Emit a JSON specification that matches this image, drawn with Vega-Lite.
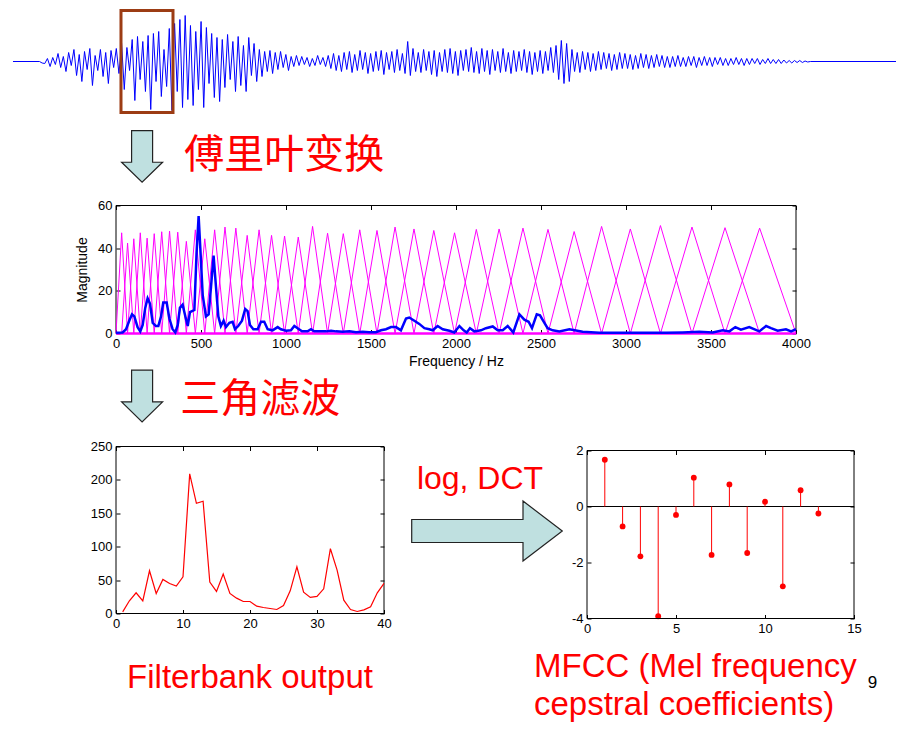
{
"$schema":"https://vega.github.io/schema/vega-lite/v6.json",
"background":"white",
"padding":{"left":10,"top":8.5,"right":5,"bottom":5},
"bounds":"flush",
"spacing":113,
"config":{
 "view":{"stroke":null},
 "axis":{"domain":false,"grid":false,"ticks":true,"tickSize":-4,"tickColor":"black","tickWidth":1,"labelPadding":8,"labelColor":"black","labelFont":"Liberation Sans","labelFontSize":13,"labelFlush":false,"labelOverlap":false,"titleFont":"Liberation Sans","titleFontSize":13,"titleFontWeight":"normal","titleColor":"black"}
},
"datasets":{
 "wave":[{"t":0,"v":0},{"t":30,"v":0},{"t":33,"v":-1.5},
{"t":36,"v":-2},{"t":39,"v":3},{"t":42,"v":-5},{"t":45,"v":4},{"t":48,"v":-3},{"t":51,"v":8},{"t":54,"v":-6},{"t":57,"v":5},{"t":60,"v":-10},{"t":63,"v":9},{"t":66,"v":-4},{"t":69,"v":12},{"t":72,"v":-14},{"t":75,"v":7},{"t":78,"v":-20},{"t":81,"v":10},{"t":84,"v":-8},{"t":87,"v":13},{"t":90,"v":-24},{"t":93,"v":6},{"t":96,"v":-9},{"t":99,"v":12},{"t":102,"v":-15},{"t":105,"v":9},{"t":108,"v":-22},{"t":111,"v":11},{"t":114,"v":-6},{"t":117,"v":13},{"t":120,"v":-12},
{"t":123,"v":18},{"t":126,"v":-28},{"t":129,"v":14},{"t":132,"v":-9},{"t":135,"v":22},{"t":138,"v":-39},{"t":141,"v":25},{"t":144,"v":-18},{"t":147,"v":20},{"t":150,"v":-30},{"t":153,"v":26},{"t":156,"v":-48},{"t":159,"v":28},{"t":162,"v":-20},{"t":165,"v":30},{"t":168,"v":-35},{"t":171,"v":12},{"t":174,"v":-25},{"t":177,"v":33},{"t":180,"v":-49},
{"t":183,"v":38},{"t":186,"v":-30},{"t":189,"v":42},{"t":192,"v":-46},{"t":195,"v":46},{"t":198,"v":-38},{"t":201,"v":36},{"t":204,"v":-44},{"t":207,"v":30},{"t":210,"v":-28},{"t":213,"v":40},{"t":216,"v":-46},{"t":219,"v":34},{"t":222,"v":-22},{"t":225,"v":28},{"t":228,"v":-36},{"t":231,"v":24},{"t":234,"v":-40},{"t":237,"v":22},{"t":240,"v":-26},{"t":243,"v":27},{"t":246,"v":-18},{"t":249,"v":20},{"t":252,"v":-30},{"t":255,"v":25},{"t":258,"v":-24},{"t":261,"v":16},{"t":264,"v":-30},{"t":267,"v":24},{"t":270,"v":-14},{"t":273,"v":18},{"t":276,"v":-20},
{"t":279,"v":12},{"t":282,"v":-15},{"t":285,"v":10},{"t":288,"v":-10},{"t":291,"v":11},{"t":294,"v":-12},{"t":297,"v":9},{"t":300,"v":-8},{"t":303,"v":10},{"t":306,"v":-6},{"t":309,"v":7},{"t":312,"v":-9},{"t":315,"v":5},{"t":318,"v":-5},{"t":321,"v":6},{"t":324,"v":-4},
{"t":327,"v":5},{"t":330,"v":-3},{"t":333,"v":4},{"t":336,"v":-5},{"t":339,"v":3},{"t":342,"v":-4},{"t":345,"v":6},{"t":348,"v":-3},{"t":351,"v":4},{"t":354,"v":-5},{"t":357,"v":6},
{"t":360,"v":-7},{"t":363,"v":8},{"t":366,"v":-9},{"t":369,"v":6},{"t":372,"v":-10},{"t":375,"v":9},{"t":378,"v":-8},{"t":381,"v":10},{"t":384,"v":-11},{"t":387,"v":7},{"t":390,"v":-9},{"t":393,"v":11},{"t":396,"v":-8},{"t":399,"v":9},{"t":402,"v":-12},{"t":405,"v":8},{"t":408,"v":-10},{"t":411,"v":10},{"t":414,"v":-9},{"t":417,"v":11},{"t":420,"v":-13},{"t":423,"v":9},{"t":426,"v":-8},{"t":429,"v":10},{"t":432,"v":-11},{"t":435,"v":12},{"t":438,"v":-9},{"t":441,"v":8},{"t":444,"v":-12},{"t":447,"v":20},{"t":450,"v":-14},{"t":453,"v":13},{"t":456,"v":-10},{"t":459,"v":9},{"t":462,"v":-11},{"t":465,"v":12},{"t":468,"v":-9},{"t":471,"v":10},{"t":474,"v":-13},{"t":477,"v":11},{"t":480,"v":-15},{"t":483,"v":9},{"t":486,"v":-10},{"t":489,"v":12},{"t":492,"v":-11},{"t":495,"v":13},{"t":498,"v":-12},{"t":501,"v":10},{"t":504,"v":-14},{"t":507,"v":11},{"t":510,"v":-9},{"t":513,"v":12},{"t":516,"v":-10},{"t":519,"v":14},{"t":522,"v":-11},{"t":525,"v":10},{"t":528,"v":-12},{"t":531,"v":13},{"t":534,"v":-10},{"t":537,"v":11},{"t":540,"v":-13},{"t":543,"v":12},{"t":546,"v":-9},{"t":549,"v":10},{"t":552,"v":-11},{"t":555,"v":13},{"t":558,"v":-10},{"t":561,"v":9},{"t":564,"v":-12},{"t":567,"v":11},{"t":570,"v":-10},{"t":573,"v":10},{"t":576,"v":-9},{"t":579,"v":12},{"t":582,"v":-11},{"t":585,"v":10},{"t":588,"v":-13},{"t":591,"v":9},{"t":594,"v":-10},{"t":597,"v":11},{"t":600,"v":-12},{"t":603,"v":10},{"t":606,"v":-9},{"t":609,"v":14},{"t":612,"v":-11},{"t":615,"v":16},{"t":618,"v":-18},{"t":621,"v":21},{"t":624,"v":-22},{"t":627,"v":18},{"t":630,"v":-20},{"t":633,"v":12},{"t":636,"v":-10},{"t":639,"v":9},{"t":642,"v":-11},{"t":645,"v":10},{"t":648,"v":-8},{"t":651,"v":9},{"t":654,"v":-10},{"t":657,"v":8},{"t":660,"v":-9},{"t":663,"v":10},
{"t":666,"v":-8},{"t":669,"v":9},{"t":672,"v":-7},{"t":675,"v":8},{"t":678,"v":-9},{"t":681,"v":7},{"t":684,"v":-8},{"t":687,"v":9},{"t":690,"v":-7},{"t":693,"v":8},{"t":696,"v":-7},{"t":699,"v":7},{"t":702,"v":-8},{"t":705,"v":6},{"t":708,"v":-7},{"t":711,"v":8},{"t":714,"v":-6},{"t":717,"v":7},{"t":720,"v":-7},{"t":723,"v":6},{"t":726,"v":-6},{"t":729,"v":7},{"t":732,"v":-5},{"t":735,"v":6},{"t":738,"v":-6},{"t":741,"v":5},{"t":744,"v":-6},{"t":747,"v":5},{"t":750,"v":-5},{"t":753,"v":6},{"t":756,"v":-5},{"t":759,"v":4},{"t":762,"v":-5},{"t":765,"v":5},{"t":768,"v":-4},{"t":771,"v":5},{"t":774,"v":-6},{"t":777,"v":4},{"t":780,"v":-4},{"t":783,"v":5},{"t":786,"v":-4},{"t":789,"v":4},{"t":792,"v":-5},{"t":795,"v":4},{"t":798,"v":-3},{"t":801,"v":4},{"t":804,"v":-4},{"t":807,"v":3},{"t":810,"v":-4},{"t":813,"v":3},{"t":816,"v":-3},{"t":819,"v":4},{"t":822,"v":-3},{"t":825,"v":3},{"t":828,"v":-4},{"t":831,"v":3},{"t":834,"v":-3},{"t":837,"v":3},{"t":840,"v":-2},{"t":843,"v":3},{"t":846,"v":-3},{"t":849,"v":2},{"t":852,"v":-2},{"t":855,"v":3},{"t":858,"v":-2},{"t":861,"v":2},{"t":864,"v":-2},{"t":867,"v":2},{"t":870,"v":-2},{"t":873,"v":1.5},{"t":876,"v":-1.5},{"t":879,"v":1},{"t":882,"v":-1.5},{"t":885,"v":1},{"t":888,"v":-1},{"t":891,"v":1},{"t":894,"v":-1},{"t":897,"v":0.5},{"t":900,"v":-0.5},{"t":903,"v":0},{"t":1000,"v":0}],
 "mfcc":[{"k":1,"c":1.67},{"k":2,"c":-0.71},{"k":3,"c":-1.78},{"k":4,"c":-3.92},{"k":5,"c":-0.30},{"k":6,"c":1.03},{"k":7,"c":-1.73},{"k":8,"c":0.79},{"k":9,"c":-1.66},{"k":10,"c":0.17},{"k":11,"c":-2.85},{"k":12,"c":0.58},{"k":13,"c":-0.25}]
},
"vconcat":[
 {
  "width":680,"height":82,
  "layer":[
   {"data":{"name":"wave"},
    "mark":{"type":"line","color":"#0000ff","strokeWidth":1},
    "encoding":{"x":{"field":"t","type":"quantitative","scale":{"domain":[116.65,886.75],"nice":false,"zero":false},"axis":null},
                "y":{"field":"v","type":"quantitative","scale":{"domain":[-31,51],"nice":false,"zero":false},"axis":null}}},
   {"data":{"values":[{"start":122.3,"end":181.2}]},
    "mark":{"type":"rect","filled":false,"color":"#9c3c14","strokeWidth":3},
    "encoding":{"x":{"field":"start","type":"quantitative","scale":{"domain":[116.65,886.75],"nice":false,"zero":false},"axis":null},"x2":{"field":"end"},
                "y":{"datum":-51,"scale":{"domain":[-31,51],"nice":false,"zero":false},"axis":null},"y2":{"datum":51}}}
  ]
 },
 {
  "width":680,"height":128,
  "resolve":{"axis":{"x":"independent","y":"independent"}},
  "layer":[
   {"data":{"values":[{}]},"mark":{"type":"rect","filled":false,"color":"black","strokeWidth":1},
    "encoding":{"x":{"datum":0,"scale":{"domain":[0,4000],"nice":false,"zero":false},"axis":{"orient":"top","labels":false,"title":null,"values":[0,500,1000,1500,2000,2500,3000,3500,4000]}},"x2":{"datum":4000},
                "y":{"datum":0,"scale":{"domain":[0,60],"nice":false,"zero":false},"axis":{"orient":"right","labels":false,"title":null,"values":[0,20,40,60]}},"y2":{"datum":60}}},
   {"data":{"values":[
{"k":1,"f":0,"m":0},{"k":1,"f":33.3,"m":47.2},{"k":1,"f":68.1,"m":0},
{"k":2,"f":33.3,"m":0},{"k":2,"f":68.1,"m":42.4},{"k":2,"f":104.7,"m":0},
{"k":3,"f":68.1,"m":0},{"k":3,"f":104.7,"m":44.4},{"k":3,"f":142.9,"m":0},
{"k":4,"f":104.7,"m":0},{"k":4,"f":142.9,"m":47.2},{"k":4,"f":183.0,"m":0},
{"k":5,"f":142.9,"m":0},{"k":5,"f":183.0,"m":44.7},{"k":5,"f":224.9,"m":0},
{"k":6,"f":183.0,"m":0},{"k":6,"f":224.9,"m":46.8},{"k":6,"f":268.9,"m":0},
{"k":7,"f":224.9,"m":0},{"k":7,"f":268.9,"m":47.7},{"k":7,"f":315.0,"m":0},
{"k":8,"f":268.9,"m":0},{"k":8,"f":315.0,"m":48},{"k":8,"f":363.2,"m":0},
{"k":9,"f":315.0,"m":0},{"k":9,"f":363.2,"m":47.5},{"k":9,"f":413.8,"m":0},
{"k":10,"f":363.2,"m":0},{"k":10,"f":413.8,"m":43.2},{"k":10,"f":466.7,"m":0},
{"k":11,"f":413.8,"m":0},{"k":11,"f":466.7,"m":48.6},{"k":11,"f":522.2,"m":0},
{"k":12,"f":466.7,"m":0},{"k":12,"f":522.2,"m":44.4},{"k":12,"f":580.3,"m":0},
{"k":13,"f":522.2,"m":0},{"k":13,"f":580.3,"m":48.6},{"k":13,"f":641.1,"m":0},
{"k":14,"f":580.3,"m":0},{"k":14,"f":641.1,"m":49.9},{"k":14,"f":704.9,"m":0},
{"k":15,"f":641.1,"m":0},{"k":15,"f":704.9,"m":49.4},{"k":15,"f":771.6,"m":0},
{"k":16,"f":704.9,"m":0},{"k":16,"f":771.6,"m":46},{"k":16,"f":841.6,"m":0},
{"k":17,"f":771.6,"m":0},{"k":17,"f":841.6,"m":48.6},{"k":17,"f":914.9,"m":0},
{"k":18,"f":841.6,"m":0},{"k":18,"f":914.9,"m":46},{"k":18,"f":991.6,"m":0},
{"k":19,"f":914.9,"m":0},{"k":19,"f":991.6,"m":45.7},{"k":19,"f":1072.1,"m":0},
{"k":20,"f":991.6,"m":0},{"k":20,"f":1072.1,"m":45.2},{"k":20,"f":1156.3,"m":0},
{"k":21,"f":1072.1,"m":0},{"k":21,"f":1156.3,"m":50.2},{"k":21,"f":1244.5,"m":0},
{"k":22,"f":1156.3,"m":0},{"k":22,"f":1244.5,"m":47},{"k":22,"f":1337.0,"m":0},
{"k":23,"f":1244.5,"m":0},{"k":23,"f":1337.0,"m":46.8},{"k":23,"f":1433.8,"m":0},
{"k":24,"f":1337.0,"m":0},{"k":24,"f":1433.8,"m":48.6},{"k":24,"f":1535.2,"m":0},
{"k":25,"f":1433.8,"m":0},{"k":25,"f":1535.2,"m":48.3},{"k":25,"f":1641.5,"m":0},
{"k":26,"f":1535.2,"m":0},{"k":26,"f":1641.5,"m":49.9},{"k":26,"f":1752.8,"m":0},
{"k":27,"f":1641.5,"m":0},{"k":27,"f":1752.8,"m":49},{"k":27,"f":1869.4,"m":0},
{"k":28,"f":1752.8,"m":0},{"k":28,"f":1869.4,"m":48.3},{"k":28,"f":1991.5,"m":0},
{"k":29,"f":1869.4,"m":0},{"k":29,"f":1991.5,"m":47.2},{"k":29,"f":2119.5,"m":0},
{"k":30,"f":1991.5,"m":0},{"k":30,"f":2119.5,"m":48.8},{"k":30,"f":2253.5,"m":0},
{"k":31,"f":2119.5,"m":0},{"k":31,"f":2253.5,"m":49},{"k":31,"f":2393.9,"m":0},
{"k":32,"f":2253.5,"m":0},{"k":32,"f":2393.9,"m":49.4},{"k":32,"f":2541.0,"m":0},
{"k":33,"f":2393.9,"m":0},{"k":33,"f":2541.0,"m":48.8},{"k":33,"f":2695.0,"m":0},
{"k":34,"f":2541.0,"m":0},{"k":34,"f":2695.0,"m":47.8},{"k":34,"f":2856.4,"m":0},
{"k":35,"f":2695.0,"m":0},{"k":35,"f":2856.4,"m":50.2},{"k":35,"f":3025.5,"m":0},
{"k":36,"f":2856.4,"m":0},{"k":36,"f":3025.5,"m":49},{"k":36,"f":3202.6,"m":0},
{"k":37,"f":3025.5,"m":0},{"k":37,"f":3202.6,"m":50.6},{"k":37,"f":3388.1,"m":0},
{"k":38,"f":3202.6,"m":0},{"k":38,"f":3388.1,"m":49.9},{"k":38,"f":3582.4,"m":0},
{"k":39,"f":3388.1,"m":0},{"k":39,"f":3582.4,"m":49.6},{"k":39,"f":3786.0,"m":0},
{"k":40,"f":3582.4,"m":0},{"k":40,"f":3786.0,"m":49.4},{"k":40,"f":4000,"m":0}]},
    "mark":{"type":"line","color":"#ff00ff","strokeWidth":1},
    "encoding":{"x":{"field":"f","type":"quantitative","scale":{"domain":[0,4000],"nice":false,"zero":false},"axis":null},
                "y":{"field":"m","type":"quantitative","scale":{"domain":[0,60],"nice":false,"zero":false},"axis":null},
                "detail":{"field":"k"}}},
   {"data":{"values":[{}]},"mark":{"type":"rule","color":"#ff00ff","strokeWidth":2.5},
    "encoding":{"y":{"datum":0,"scale":{"domain":[0,60],"nice":false,"zero":false},"axis":null}}},
   {"data":{"values":[{"f":0,"v":0.3},{"f":39,"v":0.5},{"f":59,"v":2},{"f":78,"v":6},{"f":94,"v":9},{"f":108,"v":8},{"f":127,"v":3},{"f":143,"v":1},{"f":157,"v":4},{"f":172,"v":12},{"f":186,"v":16.5},{"f":200,"v":14},{"f":216,"v":5},{"f":235,"v":3.5},{"f":249,"v":3.5},{"f":265,"v":8},{"f":278,"v":14.5},{"f":298,"v":14.5},{"f":314,"v":7},{"f":333,"v":2},{"f":349,"v":0.5},{"f":363,"v":4},{"f":376,"v":12},{"f":392,"v":13.5},{"f":408,"v":8},{"f":422,"v":3.5},{"f":435,"v":10},{"f":447,"v":10.5},{"f":461,"v":11},{"f":474,"v":38},{"f":486,"v":55},{"f":496,"v":40},{"f":510,"v":18},{"f":529,"v":8},{"f":545,"v":9},{"f":559,"v":22},{"f":574,"v":36.5},{"f":588,"v":22},{"f":602,"v":8},{"f":617,"v":3.5},{"f":633,"v":6},{"f":647,"v":3},{"f":667,"v":5},{"f":686,"v":5.5},{"f":700,"v":2},{"f":719,"v":3.5},{"f":741,"v":6},{"f":760,"v":11.5},{"f":774,"v":10.5},{"f":788,"v":4},{"f":808,"v":2},{"f":833,"v":2},{"f":853,"v":5.5},{"f":872,"v":5.5},{"f":892,"v":2},{"f":921,"v":1.5},{"f":951,"v":3},{"f":970,"v":2},{"f":1000,"v":1.3},{"f":1029,"v":1.5},{"f":1049,"v":3.5},{"f":1068,"v":2.5},{"f":1094,"v":1},{"f":1127,"v":1},{"f":1147,"v":2},{"f":1166,"v":1},{"f":1206,"v":1},{"f":1235,"v":1},{"f":1265,"v":1.3},{"f":1294,"v":1},{"f":1333,"v":0.8},{"f":1373,"v":1},{"f":1412,"v":0.6},{"f":1451,"v":0.8},{"f":1490,"v":0.6},{"f":1529,"v":0.6},{"f":1559,"v":1.5},{"f":1588,"v":2},{"f":1618,"v":3},{"f":1647,"v":3},{"f":1676,"v":1.5},{"f":1706,"v":7},{"f":1725,"v":7.5},{"f":1755,"v":6},{"f":1784,"v":4.5},{"f":1814,"v":2.5},{"f":1843,"v":2},{"f":1863,"v":1.5},{"f":1892,"v":3.5},{"f":1922,"v":2},{"f":1961,"v":1.3},{"f":1990,"v":0.5},{"f":2020,"v":3.5},{"f":2045,"v":1.5},{"f":2063,"v":0.5},{"f":2082,"v":2.5},{"f":2108,"v":1},{"f":2147,"v":1.5},{"f":2176,"v":2.5},{"f":2216,"v":3.3},{"f":2245,"v":1.5},{"f":2275,"v":1.5},{"f":2304,"v":3.5},{"f":2337,"v":0.5},{"f":2373,"v":9},{"f":2402,"v":6.5},{"f":2427,"v":5.5},{"f":2447,"v":2.5},{"f":2475,"v":9},{"f":2494,"v":8.5},{"f":2520,"v":5},{"f":2539,"v":2.5},{"f":2569,"v":1.5},{"f":2608,"v":1},{"f":2667,"v":2},{"f":2745,"v":0.8},{"f":2843,"v":0.3},{"f":2941,"v":0.3},{"f":3039,"v":0.3},{"f":3137,"v":0.3},{"f":3235,"v":0.3},{"f":3333,"v":0.5},{"f":3431,"v":0.8},{"f":3510,"v":0.5},{"f":3569,"v":1.5},{"f":3608,"v":1},{"f":3643,"v":3},{"f":3676,"v":1.8},{"f":3725,"v":3},{"f":3784,"v":1},{"f":3824,"v":3.5},{"f":3853,"v":2.5},{"f":3892,"v":1.3},{"f":3941,"v":2},{"f":3971,"v":1},{"f":4000,"v":2}]},
    "mark":{"type":"line","color":"#0000ff","strokeWidth":2.5},
    "encoding":{"x":{"field":"f","type":"quantitative","scale":{"domain":[0,4000],"nice":false,"zero":false},"axis":{"orient":"bottom","values":[0,500,1000,1500,2000,2500,3000,3500,4000],"format":"d","title":"Frequency / Hz","titlePadding":4,"titleFontSize":14}},
                "y":{"field":"v","type":"quantitative","scale":{"domain":[0,60],"nice":false,"zero":false},"axis":{"orient":"left","values":[0,20,40,60],"title":"Magnitude","titlePadding":8,"titleFontSize":14}}}},
   {"data":{"values":[{}]},
    "mark":{"type":"point","shape":"M-0.404,-0.994L0.404,-0.994L0.404,0.223L0.788,0.223L0,0.994L-0.788,0.223L-0.404,0.223Z","size":2704,"filled":true,"fill":"#bfe0e0","stroke":"#222222","strokeWidth":1.2,"opacity":1},
    "encoding":{"x":{"datum":153.5,"scale":{"domain":[0,4000],"nice":false,"zero":false},"axis":null},"y":{"datum":83,"scale":{"domain":[0,60],"nice":false,"zero":false},"axis":null}}},
   {"data":{"values":[{}]},
    "mark":{"type":"point","shape":"M-0.404,-0.994L0.404,-0.994L0.404,0.223L0.788,0.223L0,0.994L-0.788,0.223L-0.404,0.223Z","size":2704,"filled":true,"fill":"#bfe0e0","stroke":"#222222","strokeWidth":1.2,"opacity":1},
    "encoding":{"x":{"datum":153.5,"scale":{"domain":[0,4000],"nice":false,"zero":false},"axis":null},"y":{"datum":-29.3,"scale":{"domain":[0,60],"nice":false,"zero":false},"axis":null}}},
   {"data":{"values":[{"label":"傅里叶变换"}]},
    "mark":{"type":"text","font":"Noto Sans CJK SC","fontSize":40,"color":"#ff0000","baseline":"middle","align":"center"},
    "encoding":{"text":{"field":"label"},"x":{"datum":990,"scale":{"domain":[0,4000],"nice":false,"zero":false},"axis":null},"y":{"datum":83.4,"scale":{"domain":[0,60],"nice":false,"zero":false},"axis":null}}},
   {"data":{"values":[{"label":"三角滤波"}]},
    "mark":{"type":"text","font":"Noto Sans CJK SC","fontSize":40,"color":"#ff0000","baseline":"middle","align":"center"},
    "encoding":{"text":{"field":"label"},"x":{"datum":849,"scale":{"domain":[0,4000],"nice":false,"zero":false},"axis":null},"y":{"datum":-31.4,"scale":{"domain":[0,60],"nice":false,"zero":false},"axis":null}}}
  ]
 },
 {
  "bounds":"flush",
  "spacing":14,
  "hconcat":[
   {
    "width":268,"height":167,
    "title":{"text":"Filterbank output","orient":"bottom","frame":"group","anchor":"middle","offset":31,"fontSize":33,"font":"Liberation Sans","fontWeight":"normal","color":"#ff0000","baseline":"top"},
    "resolve":{"axis":{"x":"independent","y":"independent"}},
    "layer":[
     {"data":{"values":[{}]},"mark":{"type":"rect","filled":false,"color":"black","strokeWidth":1},
      "encoding":{"x":{"datum":0,"scale":{"domain":[0,40],"nice":false,"zero":false},"axis":{"orient":"top","labels":false,"title":null,"values":[0,10,20,30,40]}},"x2":{"datum":40},
                  "y":{"datum":0,"scale":{"domain":[0,250],"nice":false,"zero":false},"axis":{"orient":"right","labels":false,"title":null,"values":[0,50,100,150,200,250]}},"y2":{"datum":250}}},
     {"data":{"values":[{"i":1,"v":2.5},{"i":2,"v":19},{"i":3,"v":31},{"i":4,"v":19},{"i":5,"v":64},{"i":6,"v":30},{"i":7,"v":51},{"i":8,"v":45},{"i":9,"v":41},{"i":10,"v":55},{"i":11,"v":209},{"i":12,"v":165},{"i":13,"v":168},{"i":14,"v":47},{"i":15,"v":33},{"i":16,"v":59},{"i":17,"v":30},{"i":18,"v":23},{"i":19,"v":18},{"i":20,"v":18},{"i":21,"v":11},{"i":22,"v":9},{"i":23,"v":7.5},{"i":24,"v":6},{"i":25,"v":12},{"i":26,"v":34},{"i":27,"v":70},{"i":28,"v":32},{"i":29,"v":24},{"i":30,"v":25.5},{"i":31,"v":37},{"i":32,"v":97},{"i":33,"v":65},{"i":34,"v":20},{"i":35,"v":6},{"i":36,"v":3},{"i":37,"v":5.5},{"i":38,"v":10},{"i":39,"v":31},{"i":40,"v":45}]},
      "mark":{"type":"line","color":"#ff0000","strokeWidth":1.2},
      "encoding":{"x":{"field":"i","type":"quantitative","scale":{"domain":[0,40],"nice":false,"zero":false},"axis":{"orient":"bottom","values":[0,10,20,30,40],"title":null}},
                  "y":{"field":"v","type":"quantitative","scale":{"domain":[0,250],"nice":false,"zero":false},"axis":{"orient":"left","values":[0,50,100,150,200,250],"title":null}}}}
    ]
   },
   {
    "width":175,"height":169,
    "data":{"values":[{"label":"log, DCT"}]},
    "layer":[
     {"mark":{"type":"point","shape":"M-0.98,-0.153L0.498,-0.153L0.498,-0.398L1.02,0L0.498,0.398L0.498,0.153L-0.98,0.153Z","size":22680,"filled":true,"fill":"#bfe0e0","stroke":"#222222","strokeWidth":1.2,"opacity":1}},
     {"mark":{"type":"text","font":"Liberation Sans","fontSize":32,"color":"#ff0000","dx":-5.5,"dy":-42.5,"baseline":"alphabetic","align":"center"},
      "encoding":{"text":{"field":"label"}}}
    ]
   },
   {
    "width":267,"height":172,
    "title":{"text":["MFCC (Mel frequency","cepstral coefficients)"],"orient":"bottom","frame":"group","anchor":"start","dx":-53,"offset":-40,"fontSize":33,"lineHeight":38,"font":"Liberation Sans","fontWeight":"normal","color":"#ff0000","baseline":"top"},
    "resolve":{"axis":{"x":"independent","y":"independent"}},
    "layer":[
     {"data":{"values":[{}]},"mark":{"type":"rule","color":"black","strokeWidth":1},
      "encoding":{"y":{"datum":0,"scale":{"domain":[-4,2.1429],"nice":false,"zero":false},"axis":null}}},
     {"data":{"name":"mfcc"},"mark":{"type":"rule","color":"#ff0000","strokeWidth":1},
      "encoding":{"x":{"field":"k","type":"quantitative","scale":{"domain":[0,15],"nice":false,"zero":false},"axis":null},
                  "y":{"field":"c","type":"quantitative","scale":{"domain":[-4,2.1429],"nice":false,"zero":false},"axis":null},"y2":{"datum":0}}},
     {"data":{"name":"mfcc"},"mark":{"type":"circle","color":"#ff0000","size":34,"opacity":1},
      "encoding":{"x":{"field":"k","type":"quantitative","scale":{"domain":[0,15],"nice":false,"zero":false},"axis":{"orient":"bottom","values":[0,5,10,15],"title":null}},
                  "y":{"field":"c","type":"quantitative","scale":{"domain":[-4,2.1429],"nice":false,"zero":false},"axis":{"orient":"left","values":[-4,-2,0,2],"title":null,"labelExpr":"replace(datum.label, '−', '-')"}}}},
     {"data":{"values":[{}]},"mark":{"type":"rect","filled":false,"color":"black","strokeWidth":1},
      "encoding":{"x":{"datum":0,"scale":{"domain":[0,15],"nice":false,"zero":false},"axis":{"orient":"top","labels":false,"title":null,"values":[0,5,10,15],"offset":-4}},"x2":{"datum":15},
                  "y":{"datum":-4,"scale":{"domain":[-4,2.1429],"nice":false,"zero":false},"axis":{"orient":"right","labels":false,"title":null,"values":[-4,-2,0,2]}},"y2":{"datum":2}}},
     {"data":{"values":[{"page":"9"}]},"mark":{"type":"text","font":"Liberation Sans","fontSize":17,"color":"black","baseline":"middle","align":"center"},
      "encoding":{"text":{"field":"page"},"x":{"datum":16.04,"scale":{"domain":[0,15],"nice":false,"zero":false},"axis":null},"y":{"datum":-6.32,"scale":{"domain":[-4,2.1429],"nice":false,"zero":false},"axis":null}}}
    ]
   }
  ]
 }
]
}
